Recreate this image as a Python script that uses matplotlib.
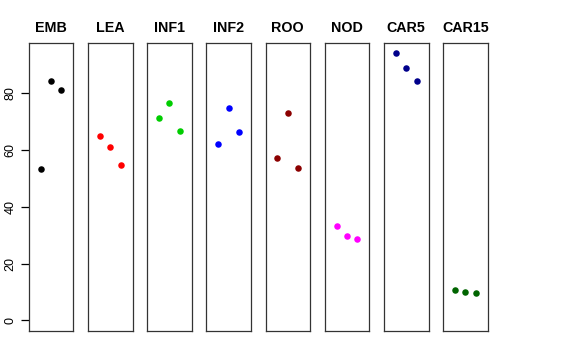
import matplotlib
matplotlib.use("Agg")
import matplotlib.pyplot as plt

plt.rcParams['font.family'] = ['Liberation Sans', 'DejaVu Sans']

# panel names, colours and the three values in each panel
groups = ['EMB', 'LEA', 'INF1', 'INF2', 'ROO', 'NOD', 'CAR5', 'CAR15']
colors = ['black', 'red', '#00CD00', 'blue', '#8B0000', 'magenta', '#00008B', '#006400']
values = [
    [53.5, 84.4, 81.3],
    [65.0, 61.1, 54.6],
    [71.2, 76.6, 66.7],
    [62.2, 74.8, 66.4],
    [57.3, 73.2, 53.8],
    [33.2, 29.9, 28.7],
    [94.1, 89.1, 84.2],
    [10.8, 9.9, 9.8],
]
yticks = [0, 20, 40, 60, 80]

W, H = 576, 360
fig = plt.figure(figsize=(W / 100, H / 100), dpi=100)

ymax = max(max(v) for v in values)
ylo = 0 - 0.04 * ymax
yhi = ymax + 0.04 * ymax

left0 = 28.7
pw = 44.6
step = 59.2
top = 42.7
bottom = 331.0

for i, (g, c, v) in enumerate(zip(groups, colors, values)):
    x0 = left0 + i * step
    ax = fig.add_axes([x0 / W, 1 - bottom / H, pw / W, (bottom - top) / H])
    ax.scatter([1, 2, 3], v, s=22, color=c, zorder=3, linewidths=0)
    ax.set_xlim(-0.16, 4.16)
    ax.set_ylim(ylo, yhi)
    ax.set_xticks([])
    for sp in ax.spines.values():
        sp.set_linewidth(0.9)
        sp.set_color('#333333')
    ax.set_title(g, fontsize=10.3, fontweight='bold', pad=8)
    if i == 0:
        ax.set_yticks(yticks)
        ax.set_yticklabels([str(t) for t in yticks], rotation=90, va='center', fontsize=9)
        ax.tick_params(axis='y', length=6, width=0.9, pad=3)
    else:
        ax.set_yticks([])

fig.savefig('out.png', dpi=100)
